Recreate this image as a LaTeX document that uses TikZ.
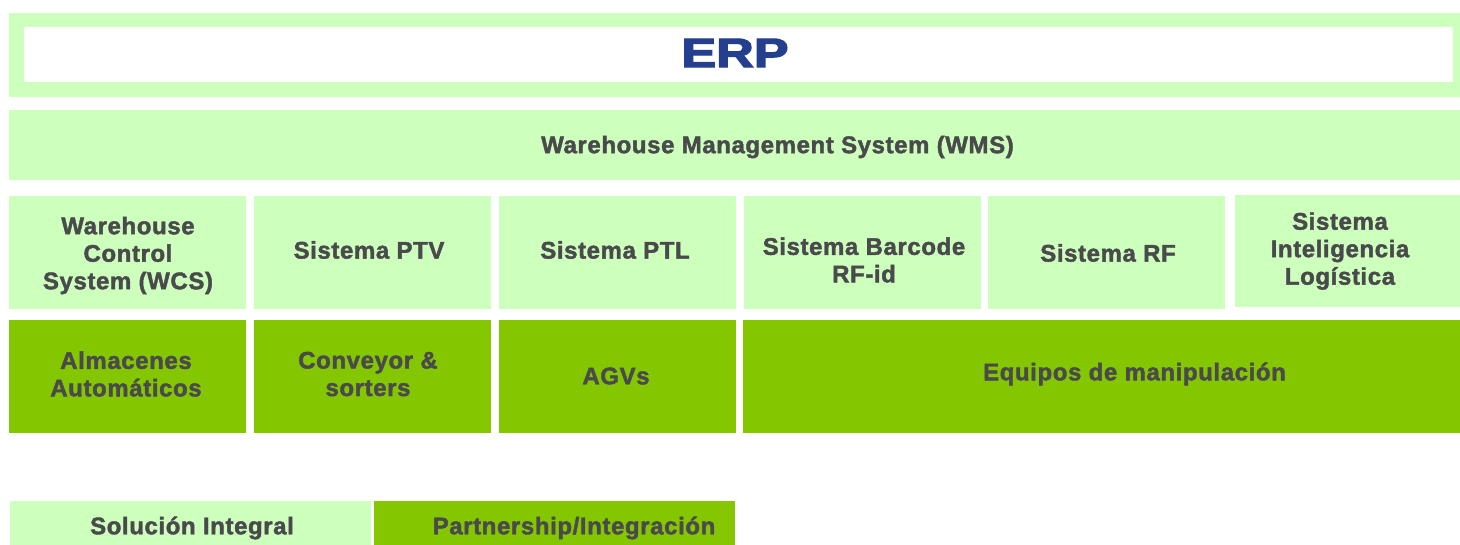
\documentclass[tikz,border=0pt]{standalone}
\usepackage{fontspec}
\setmainfont{Liberation Sans}
\newfontfamily\heavy{Liberation Sans}[UprightFont=* Bold, FakeBold=1.8, LetterSpace=2.5]
\newfontfamily\heavyerp{Liberation Sans}[UprightFont=* Bold, FakeBold=3]
\definecolor{lgreen}{HTML}{CDFFBD}
\definecolor{dgreen}{HTML}{84C700}
\definecolor{tgray}{HTML}{4A4A4D}
\definecolor{erpblue}{HTML}{233F8E}
\begin{document}
\begin{tikzpicture}[x=1pt,y=-1pt,
  box/.style={inner sep=0pt,outer sep=0pt,anchor=north west,draw=none},
  lbox/.style={box,fill=lgreen},
  dbox/.style={box,fill=dgreen},
  txt/.style={inner sep=0pt,text=tgray,align=center,font=\heavy\fontsize{24}{27.5}\selectfont}
]
\useasboundingbox (0,0) rectangle (1460,544);
% ERP
\node[lbox,minimum width=1451,minimum height=84.5] (erpout) at (9,12.5) {};
\node[box,fill=white,minimum width=1429,minimum height=55] (erpin) at (24,27) {};
\node[inner sep=0pt,text=erpblue,font=\heavyerp\fontsize{41}{40}\selectfont] (erpt) at (735,53) {\scalebox{1.27}[1]{ERP}};
% WMS
\node[lbox,minimum width=1451,minimum height=70] (wms) at (9,110) {};
\node[txt] (wmst) at (777.5,147) {Warehouse Management System (WMS)};
% row 3
\node[lbox,minimum width=237,minimum height=112.5] (wcs) at (9,196) {};
\node[lbox,minimum width=237,minimum height=112.5] (ptv) at (254,196) {};
\node[lbox,minimum width=237,minimum height=112.5] (ptl) at (499,196) {};
\node[lbox,minimum width=237,minimum height=112.5] (bar) at (744,196) {};
\node[lbox,minimum width=237,minimum height=112.5] (rf) at (988,196) {};
\node[lbox,minimum width=225,minimum height=112] (int) at (1235,195) {};
\node[txt] (wcst) at (128,255.5) {Warehouse\\Control\\System (WCS)};
\node[txt] (ptvt) at (369,250) {Sistema PTV};
\node[txt] (ptlt) at (615,250) {Sistema PTL};
\node[txt] (bart) at (864,260) {Sistema Barcode\\RF-id};
\node[txt] (rft) at (1108,253) {Sistema RF};
\node[txt] (intt) at (1340,251) {Sistema\\Inteligencia\\Logística};
% row 4
\node[dbox,minimum width=237,minimum height=113] (alm) at (9,320) {};
\node[dbox,minimum width=237,minimum height=113] (con) at (254,320) {};
\node[dbox,minimum width=237,minimum height=113] (agv) at (499,320) {};
\node[dbox,minimum width=717,minimum height=113] (equ) at (743,320) {};
\node[txt] (almt) at (126,374) {Almacenes\\Automáticos};
\node[txt] (cont) at (368,374) {Conveyor \&\\sorters};
\node[txt] (agvt) at (616,376) {AGVs};
\node[txt] (equt) at (1134.5,374) {Equipos de manipulación};
% legend
\node[lbox,minimum width=361,minimum height=50] (sol) at (10,501) {};
\node[dbox,minimum width=361,minimum height=50] (par) at (374,501) {};
\node[txt] (solt) at (192,528) {Solución Integral};
\node[txt] (part) at (574,528) {Partnership/Integración};
\end{tikzpicture}
\end{document}
